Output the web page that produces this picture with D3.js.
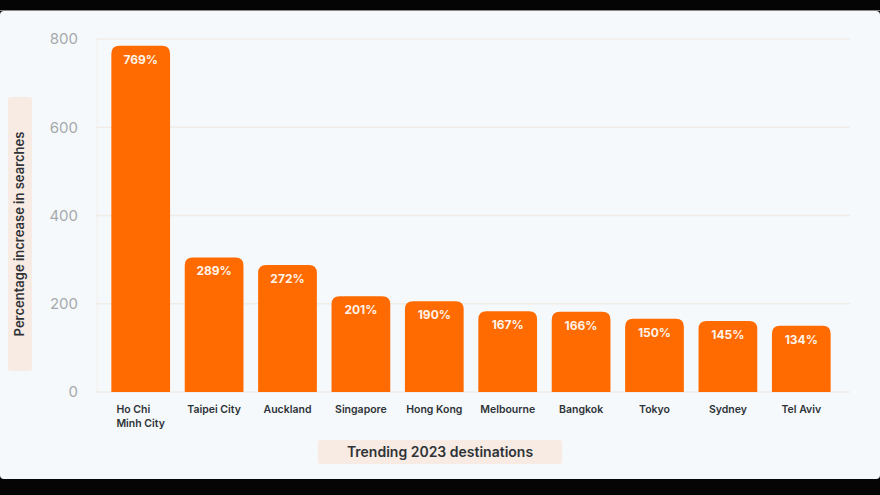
<!DOCTYPE html>
<html><head><meta charset="utf-8">
<script src="https://cdn.jsdelivr.net/npm/d3@7"></script>
<style>body{margin:0;background:#000;} svg{display:block;}</style>
</head><body>
<svg id="c" width="880" height="495"></svg>
<script>
const categories = ["Ho Chi Minh City","Taipei City","Auckland","Singapore","Hong Kong","Melbourne","Bangkok","Tokyo","Sydney","Tel Aviv"];
const labelLines = [["Ho Chi","Minh City"],["Taipei City"],["Auckland"],["Singapore"],["Hong Kong"],["Melbourne"],["Bangkok"],["Tokyo"],["Sydney"],["Tel Aviv"]];
const values = [769,289,272,201,190,167,166,150,145,134];
const yTicks = [0,200,400,600,800];
const yTitle = "Percentage increase in searches";
const xTitle = "Trending 2023 destinations";

const svg = d3.select("#c");
svg.append("rect").attr("width",880).attr("height",495).attr("fill","#050505");
svg.append("rect").attr("x",0).attr("y",11).attr("width",880).attr("height",468).attr("rx",4).attr("fill","#f5f9fc");
svg.append("line").attr("x1",0).attr("x2",880).attr("y1",10.5).attr("y2",10.5).attr("stroke","#888").attr("stroke-width",1);

const x = d3.scaleBand().domain(categories).range([104,838]).paddingInner(0.2).paddingOuter(0.1);
const y = d3.scaleLinear().domain([0,800]).range([392,39]);
// bars in the source image sit a few pixels above the axis scale
const yBar = y.copy().range([385,32]);

// gridlines
svg.append("g").selectAll("line").data(yTicks).join("line")
  .attr("x1",96).attr("x2",850).attr("y1",d=>y(d)).attr("y2",d=>y(d))
  .attr("stroke","#f0ece8").attr("stroke-width",1.5);
svg.append("line").attr("x1",97).attr("x2",97).attr("y1",y(800)).attr("y2",y(0)).attr("stroke","#f3eee9").attr("stroke-width",1);

// y axis labels
const yAxis = d3.axisLeft(y).tickValues(yTicks).tickSize(0).tickPadding(0);
const gy = svg.append("g").attr("transform","translate(78,0)").call(yAxis);
gy.select(".domain").remove();
gy.selectAll("text").attr("font-family","Inter, 'Noto Sans', sans-serif").attr("font-size",15).attr("fill","#a6a9ab").attr("font-weight",400);

// bars with rounded top corners
const r = 8;
function barPath(x0,w,yTop,yBot){
  return `M${x0},${yBot}V${yTop+r}Q${x0},${yTop} ${x0+r},${yTop}H${x0+w-r}Q${x0+w},${yTop} ${x0+w},${yTop+r}V${yBot}Z`;
}
svg.append("g").selectAll("path").data(values).join("path")
  .attr("d",(d,i)=>barPath(x(categories[i]),x.bandwidth(),yBar(d),y(0)))
  .attr("fill","#ff6b00");

svg.append("g").selectAll("text").data(values).join("text")
  .attr("x",(d,i)=>x(categories[i])+x.bandwidth()/2)
  .attr("y",(d)=>yBar(d)+18)
  .attr("text-anchor","middle")
  .attr("font-family","Inter, 'Noto Sans', sans-serif").attr("font-weight",700).attr("font-size",12)
  .attr("fill","#fff2e8").text(d=>d+"%");

// x labels (multi-line block centred under the bar, lines left-aligned)
const xl = svg.append("g");
labelLines.forEach((lines,i)=>{
  const cx = x(categories[i])+x.bandwidth()/2;
  const t = xl.append("text").attr("font-family","Inter, 'Noto Sans', sans-serif").attr("font-weight",600)
    .attr("font-size",10.5).attr("fill","#2e3338").attr("text-anchor","start");
  const spans = lines.map((l,j)=>t.append("tspan").attr("x",0).attr("y",413+j*14).text(l));
  const w = d3.max(spans, s=>s.node().getComputedTextLength());
  t.selectAll("tspan").attr("x",cx-w/2);
});

// y title box
svg.append("rect").attr("x",8).attr("y",97).attr("width",24).attr("height",274).attr("rx",3).attr("fill","#f8ebe4");
svg.append("text").attr("transform","translate(24,234) rotate(-90)").attr("text-anchor","middle")
  .attr("font-family","Inter, 'Noto Sans', sans-serif").attr("font-weight",600).attr("font-size",13)
  .attr("fill","#2f3337").text(yTitle);

// x title box
svg.append("rect").attr("x",318).attr("y",440).attr("width",244).attr("height",24).attr("rx",3).attr("fill","#f8ebe4");
svg.append("text").attr("x",440).attr("y",457).attr("text-anchor","middle")
  .attr("font-family","Inter, 'Noto Sans', sans-serif").attr("font-weight",600).attr("font-size",14)
  .attr("fill","#2f3337").text(xTitle);
</script>
</body></html>
